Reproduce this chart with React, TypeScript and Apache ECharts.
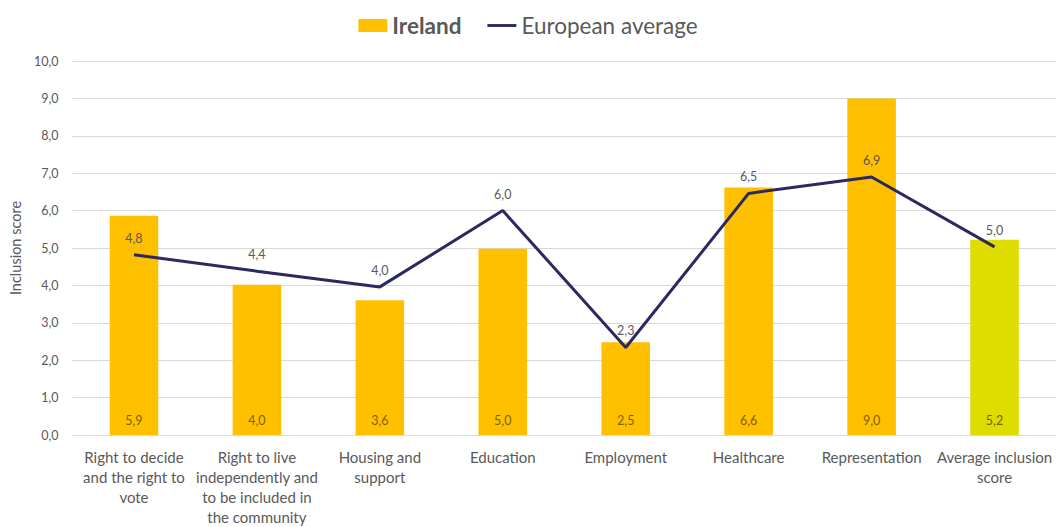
import React, { useEffect, useRef } from "react";
import * as echarts from "echarts";

const categories = [
  "Right to decide\nand the right to\nvote",
  "Right to live\nindependently and\nto be included in\nthe community",
  "Housing and\nsupport",
  "Education",
  "Employment",
  "Healthcare",
  "Representation",
  "Average inclusion\nscore",
];
const irelandValues = [5.86, 4.02, 3.6, 4.98, 2.48, 6.62, 9.0, 5.22];
const europeanValues = [4.82, 4.38, 3.96, 6.0, 2.34, 6.46, 6.9, 5.03];
const yTicks = { min: 0, max: 10, interval: 1 };

const fmt = (v: number) => (Math.round(v * 10) / 10).toFixed(1).replace(".", ",");
const FONT = "Lato";
const GRAY = "#595959";

export default function App() {
  const ref = useRef<HTMLDivElement>(null);
  useEffect(() => {
    if (!ref.current) return;
    const chart = echarts.init(ref.current, undefined, { renderer: "svg" });
    chart.setOption({
      animation: false,
      textStyle: { fontFamily: FONT },
      legend: {
        top: 9,
        left: "center",
        itemGap: 26,
        itemWidth: 29,
        itemHeight: 13,
        textStyle: {
          color: GRAY,
          fontSize: 22.5,
          fontFamily: FONT,
          rich: {
            b: { fontWeight: "bold", fontSize: 22.5, color: GRAY, fontFamily: FONT },
            n: { fontSize: 22.5, color: GRAY, fontFamily: FONT },
          },
        },
        formatter: (name: string) =>
          name === "Ireland" ? `{b|${name}}` : `{n|${name}}`,
        data: [
          { name: "Ireland", icon: "rect", itemStyle: { color: "#FFC000" } },
          { name: "European average", icon: "path://M0,0 L30,0 L30,3 L0,3 Z" },
        ],
      },
      grid: { left: 68.6, right: -3, top: 61, bottom: 86, containLabel: false },
      xAxis: {
        type: "category",
        data: categories,
        axisTick: { show: false },
        axisLine: { lineStyle: { color: "#D9D9D9", width: 1 } },
        axisLabel: {
          color: GRAY,
          fontSize: 15,
          lineHeight: 20,
          margin: 12,
          interval: 0,
          fontFamily: FONT,
        },
      },
      yAxis: {
        type: "value",
        min: yTicks.min,
        max: yTicks.max,
        interval: yTicks.interval,
        name: "Inclusion score",
        nameLocation: "middle",
        nameGap: 45,
        nameRotate: 90,
        nameTextStyle: { color: GRAY, fontSize: 14.5, fontFamily: FONT },
        axisLabel: {
          color: GRAY,
          fontSize: 12.5,
          margin: 14,
          formatter: (v: number) => fmt(v),
        },
        splitLine: { lineStyle: { color: "#D9D9D9", width: 1 } },
        axisLine: { show: false },
        axisTick: { show: false },
      },
      series: [
        {
          name: "Ireland",
          type: "bar",
          barWidth: "39.5%",
          data: irelandValues.map((v, i) => ({
            value: v,
            itemStyle: { color: i === irelandValues.length - 1 ? "#DEDC00" : "#FFC000" },
          })),
          label: {
            show: true,
            position: "insideBottom",
            distance: 8,
            color: "#7F6000",
            fontSize: 12.5,
            fontFamily: FONT,
            formatter: (p: any) => fmt(p.value),
          },
          z: 2,
        },
        {
          name: "European average",
          type: "line",
          data: europeanValues,
          symbol: "circle",
          symbolSize: 0.1,
          showSymbol: true,
          lineStyle: { color: "#2B2960", width: 3 },
          itemStyle: { color: "#2B2960" },
          label: {
            show: true,
            position: "top",
            distance: 10,
            color: GRAY,
            fontSize: 12.5,
            fontFamily: FONT,
            formatter: (p: any) => fmt(p.value),
          },
          z: 3,
        },
      ],
    });
    return () => chart.dispose();
  }, []);
  return (
    <div
      ref={ref}
      style={{ position: "absolute", left: 0, top: 0, width: 1056, height: 527, background: "#fff" }}
    />
  );
}
